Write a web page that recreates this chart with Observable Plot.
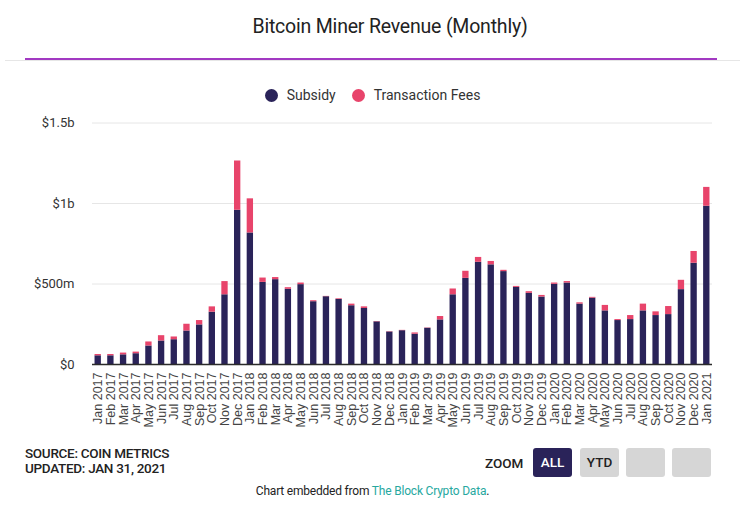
<!DOCTYPE html>
<html>
<head>
<meta charset="utf-8">
<script src="https://cdn.jsdelivr.net/npm/d3@7"></script>
<script src="https://cdn.jsdelivr.net/npm/@observablehq/plot@0.6"></script>
<style>
  html, body { margin: 0; padding: 0; background: #fff; }
  #page { position: relative; width: 745px; height: 507px; overflow: hidden; font-family: Roboto, "Open Sans", sans-serif; color: #222; }
  .abs { position: absolute; }
  #title { left: 0; width: 780px; top: 13px; text-align: center; font-size: 19.5px; line-height: 28px; color: #222; letter-spacing: -0.2px; }
  #rule-gray { left: 5px; width: 735px; top: 60px; height: 1px; background: #e6e6e6; }
  #rule { left: 25px; width: 692px; top: 58px; height: 2px; background: #a239c2; }
  #legend { left: 0; width: 745px; top: 85px; height: 20px; display: flex; justify-content: center; align-items: center; font-size: 14px; color: #333; }
  .sw { display: inline-block; width: 13px; height: 13px; border-radius: 50%; margin: 0 9px 0 16px; }
  #plot { left: 0; top: 110px; }
  #plot svg text { font-family: "Liberation Sans", Arial, sans-serif; }
  #plot svg g[aria-label="y-axis tick label"] text { font-family: Roboto, sans-serif; }
  #src { left: 25px; top: 446px; font-size: 13.5px; font-weight: 500; line-height: 15px; color: #222; letter-spacing: -0.3px; }
  #zoom { left: 485px; top: 455px; font-size: 13.5px; font-weight: 500; color: #222; }
  .btn { top: 448px; height: 29px; width: 39px; border-radius: 3px; background: #d6d6d6; color: #222; font-size: 13.5px; font-weight: 500; text-align: center; line-height: 29px; }
  #embed { left: 0; width: 745px; top: 484px; text-align: center; font-size: 12px; color: #222; letter-spacing: -0.2px; }
  #embed span { color: #27a8a0; }
</style>
</head>
<body>
<div id="page">
  <div id="title" class="abs">Bitcoin Miner Revenue (Monthly)</div>
  <div id="rule-gray" class="abs"></div>
  <div id="rule" class="abs"></div>
  <div id="legend" class="abs"></div>
  <div id="plot" class="abs"></div>
  <div id="src" class="abs">SOURCE: COIN METRICS<br>UPDATED: JAN 31, 2021</div>
  <div id="zoom" class="abs">ZOOM</div>
  <div class="abs btn" style="left:533px;background:#2a2359;color:#fff;">ALL</div>
  <div class="abs btn" style="left:580px;">YTD</div>
  <div class="abs btn" style="left:626px;"></div>
  <div class="abs btn" style="left:672px;"></div>
  <div id="embed" class="abs">Chart embedded from <span>The Block Crypto Data</span>.</div>
</div>
<script>
const months = [
  "Jan 2017","Feb 2017","Mar 2017","Apr 2017","May 2017","Jun 2017","Jul 2017","Aug 2017","Sep 2017","Oct 2017","Nov 2017","Dec 2017",
  "Jan 2018","Feb 2018","Mar 2018","Apr 2018","May 2018","Jun 2018","Jul 2018","Aug 2018","Sep 2018","Oct 2018","Nov 2018","Dec 2018",
  "Jan 2019","Feb 2019","Mar 2019","Apr 2019","May 2019","Jun 2019","Jul 2019","Aug 2019","Sep 2019","Oct 2019","Nov 2019","Dec 2019",
  "Jan 2020","Feb 2020","Mar 2020","Apr 2020","May 2020","Jun 2020","Jul 2020","Aug 2020","Sep 2020","Oct 2020","Nov 2020","Dec 2020",
  "Jan 2021"
];
// values in millions of USD
const subsidy = [
  54, 54, 60, 67, 115, 146, 154, 208, 246, 325, 433, 958,
  817, 510, 527, 467, 496, 390, 421, 404, 365, 348, 265, 202,
  210, 188, 225, 277, 433, 535, 635, 619, 577, 479, 442, 419,
  498, 506, 375, 412, 333, 273, 279, 333, 304, 310, 465, 629,
  983
];
const fees = [
  8, 8, 11, 10, 25, 33, 17, 42, 27, 33, 82, 306,
  212, 27, 13, 10, 10, 6, 2, 4, 10, 10, 2, 2,
  2, 8, 2, 21, 36, 44, 30, 21, 8, 6, 10, 10,
  8, 9, 8, 5, 34, 6, 25, 42, 23, 50, 58, 73,
  117
];
const seriesNames = ["Subsidy", "Transaction Fees"];
const seriesColors = ["#2a2359", "#e8446b"];
const yTicks = [0, 500, 1000, 1500];
const yTickLabels = ["$0", "$500m", "$1b", "$1.5b"];

const data = [];
months.forEach((m, i) => {
  data.push({month: m, type: seriesNames[0], value: subsidy[i]});
  data.push({month: m, type: seriesNames[1], value: fees[i]});
});

// legend
const legend = document.getElementById("legend");
seriesNames.forEach((n, i) => {
  const sw = document.createElement("span");
  sw.className = "sw";
  sw.style.background = seriesColors[i];
  if (i === 0) sw.style.marginLeft = "0";
  legend.appendChild(sw);
  const t = document.createElement("span");
  t.textContent = n;
  legend.appendChild(t);
});

const chart = Plot.plot({
  width: 745,
  height: 324,
  marginLeft: 92,
  marginRight: 33,
  marginTop: 12.5,
  marginBottom: 70,
  style: {fontFamily: "'Liberation Sans', Arial, sans-serif", fontSize: "13px", color: "#333", background: "transparent"},
  x: {type: "band", domain: months, paddingInner: 0.5, paddingOuter: 0.2, label: null},
  y: {domain: [0, 1500], label: null},
  color: {domain: seriesNames, range: seriesColors},
  marks: [
    Plot.ruleY(yTicks.slice(1), {stroke: "#e6e6e6", strokeWidth: 1}),
    Plot.barY(data, {x: "month", y: "value", fill: "type", order: seriesNames}),
    Plot.ruleY([0], {stroke: "#2b2b2b", strokeWidth: 1.5}),
    Plot.axisY({ticks: yTicks, tickFormat: (d) => yTickLabels[yTicks.indexOf(d)], tickSize: 0, tickPadding: 18, fontSize: 13, label: null}),
    Plot.axisX({tickRotate: -90, tickSize: 0, tickPadding: 8, fontSize: 12.5, fill: "#444", label: null})
  ]
});
document.getElementById("plot").appendChild(chart);
</script>
</body>
</html>
